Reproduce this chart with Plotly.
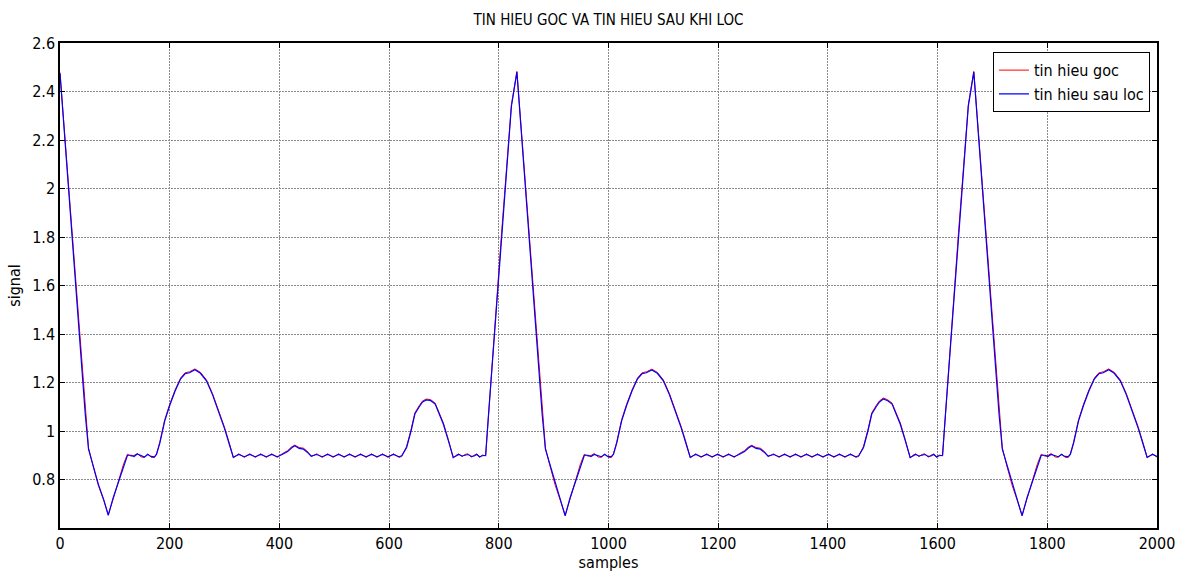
import plotly.graph_objects as go

# ---------------- data ----------------
samples_beat1 = [0, 9, 18, 27, 36, 46, 52, 61, 70, 80,
                 88, 97, 109, 116, 123, 130, 135, 141, 148, 154,
                 160, 166, 172, 176, 182, 191, 200, 210, 220, 228,
                 236, 246, 256, 262, 267, 278, 289, 300, 310, 316,
                 326, 336, 346, 356, 366, 376, 386, 396, 405, 415,
                 422, 428, 436, 444, 452, 458, 468, 478, 488, 498,
                 508, 518, 528, 538, 548, 558, 568, 578, 588, 598,
                 608, 618, 623, 632, 640, 647, 655, 661, 668, 676,
                 684, 692, 699, 708, 717, 722, 727, 733, 738, 744,
                 750, 755, 760, 765, 770, 776, 781, 792, 805, 814,
                 823]
filtered_beat1 = [2.475, 2.20, 1.92, 1.65, 1.37, 1.07, 0.925, 0.855, 0.78, 0.715,
                  0.652, 0.725, 0.808, 0.86, 0.900, 0.900, 0.895, 0.905, 0.897, 0.893,
                  0.903, 0.895, 0.893, 0.903, 0.95, 1.042, 1.105, 1.166, 1.215, 1.236,
                  1.240, 1.253, 1.238, 1.222, 1.207, 1.150, 1.083, 1.010, 0.935, 0.892,
                  0.903, 0.894, 0.903, 0.894, 0.903, 0.894, 0.903, 0.894, 0.903, 0.915,
                  0.930, 0.939, 0.928, 0.925, 0.910, 0.897, 0.903, 0.894, 0.903, 0.894,
                  0.903, 0.894, 0.903, 0.894, 0.903, 0.894, 0.903, 0.894, 0.903, 0.894,
                  0.903, 0.894, 0.898, 0.932, 1.00, 1.07, 1.10, 1.12, 1.128, 1.125,
                  1.111, 1.07, 1.028, 0.96, 0.891, 0.897, 0.903, 0.897, 0.900, 0.903,
                  0.895, 0.897, 0.903, 0.894, 0.898, 0.900, 1.06, 1.40, 1.81, 2.06,
                  2.34]
original_beat1 = [2.478, 2.21, 1.925, 1.655, 1.375, 1.075, 0.930, 0.850, 0.775, 0.712,
                  0.655, 0.720, 0.812, 0.865, 0.904, 0.896, 0.899, 0.907, 0.893, 0.891,
                  0.906, 0.892, 0.890, 0.906, 0.955, 1.047, 1.110, 1.170, 1.219, 1.240,
                  1.244, 1.256, 1.242, 1.226, 1.211, 1.155, 1.088, 1.015, 0.940, 0.889,
                  0.906, 0.891, 0.906, 0.891, 0.906, 0.891, 0.906, 0.891, 0.906, 0.919,
                  0.934, 0.942, 0.932, 0.929, 0.914, 0.894, 0.906, 0.891, 0.906, 0.891,
                  0.906, 0.891, 0.906, 0.891, 0.906, 0.891, 0.906, 0.891, 0.906, 0.891,
                  0.906, 0.891, 0.895, 0.937, 1.005, 1.075, 1.105, 1.124, 1.132, 1.129,
                  1.115, 1.075, 1.033, 0.965, 0.888, 0.900, 0.906, 0.894, 0.903, 0.906,
                  0.892, 0.900, 0.906, 0.891, 0.901, 0.897, 1.065, 1.405, 1.815, 2.065,
                  2.345]

samples_beat2 = [833, 842, 851, 860, 869, 879, 885, 894, 903, 913,
                 921, 930, 942, 949, 956, 963, 968, 974, 981, 987,
                 993, 999, 1005, 1009, 1015, 1024, 1033, 1043, 1053, 1061,
                 1069, 1079, 1089, 1095, 1100, 1111, 1122, 1133, 1143, 1149,
                 1159, 1169, 1179, 1189, 1199, 1209, 1219, 1229, 1238, 1248,
                 1255, 1261, 1269, 1277, 1285, 1291, 1301, 1311, 1321, 1331,
                 1341, 1351, 1361, 1371, 1381, 1391, 1401, 1411, 1421, 1431,
                 1441, 1451, 1456, 1465, 1473, 1480, 1488, 1494, 1501, 1509,
                 1517, 1525, 1532, 1541, 1550, 1555, 1560, 1566, 1571, 1577,
                 1583, 1588, 1593, 1598, 1603, 1609, 1614, 1625, 1638, 1647,
                 1656]
filtered_beat2 = [2.480, 2.20, 1.92, 1.65, 1.37, 1.07, 0.925, 0.855, 0.78, 0.712,
                  0.650, 0.725, 0.808, 0.86, 0.900, 0.900, 0.895, 0.903, 0.897, 0.894,
                  0.903, 0.895, 0.894, 0.903, 0.95, 1.042, 1.105, 1.166, 1.215, 1.236,
                  1.240, 1.252, 1.238, 1.222, 1.207, 1.150, 1.083, 1.010, 0.935, 0.892,
                  0.903, 0.894, 0.903, 0.894, 0.903, 0.894, 0.903, 0.894, 0.903, 0.915,
                  0.930, 0.938, 0.928, 0.925, 0.910, 0.897, 0.903, 0.894, 0.903, 0.894,
                  0.903, 0.894, 0.903, 0.894, 0.903, 0.894, 0.903, 0.894, 0.903, 0.894,
                  0.903, 0.894, 0.898, 0.932, 1.00, 1.07, 1.10, 1.12, 1.132, 1.125,
                  1.111, 1.07, 1.028, 0.96, 0.891, 0.897, 0.903, 0.897, 0.900, 0.903,
                  0.895, 0.897, 0.903, 0.894, 0.898, 0.900, 1.06, 1.40, 1.81, 2.06,
                  2.34]
original_beat2 = [2.483, 2.21, 1.925, 1.655, 1.375, 1.075, 0.930, 0.850, 0.775, 0.709,
                  0.653, 0.720, 0.812, 0.865, 0.904, 0.896, 0.899, 0.907, 0.893, 0.891,
                  0.906, 0.892, 0.890, 0.906, 0.955, 1.047, 1.110, 1.170, 1.219, 1.240,
                  1.244, 1.255, 1.242, 1.226, 1.211, 1.155, 1.088, 1.015, 0.940, 0.889,
                  0.906, 0.891, 0.906, 0.891, 0.906, 0.891, 0.906, 0.891, 0.906, 0.919,
                  0.934, 0.941, 0.932, 0.929, 0.914, 0.894, 0.906, 0.891, 0.906, 0.891,
                  0.906, 0.891, 0.906, 0.891, 0.906, 0.891, 0.906, 0.891, 0.906, 0.891,
                  0.906, 0.891, 0.895, 0.937, 1.005, 1.075, 1.105, 1.124, 1.136, 1.129,
                  1.115, 1.075, 1.033, 0.965, 0.888, 0.900, 0.906, 0.894, 0.903, 0.906,
                  0.892, 0.900, 0.906, 0.891, 0.901, 0.897, 1.065, 1.405, 1.815, 2.065,
                  2.345]

samples_beat3 = [1666, 1675, 1684, 1693, 1702, 1712, 1718, 1727, 1736, 1746,
                 1754, 1763, 1775, 1782, 1789, 1796, 1801, 1807, 1814, 1820,
                 1826, 1832, 1838, 1842, 1848, 1857, 1866, 1876, 1886, 1894,
                 1902, 1912, 1922, 1928, 1933, 1944, 1955, 1966, 1976, 1982,
                 1992, 2000]
filtered_beat3 = [2.480, 2.20, 1.92, 1.65, 1.37, 1.07, 0.925, 0.855, 0.78, 0.712,
                  0.650, 0.725, 0.808, 0.86, 0.900, 0.900, 0.895, 0.903, 0.897, 0.894,
                  0.903, 0.895, 0.894, 0.903, 0.95, 1.042, 1.105, 1.166, 1.215, 1.236,
                  1.240, 1.253, 1.238, 1.222, 1.207, 1.150, 1.083, 1.010, 0.935, 0.892,
                  0.903, 0.895]
original_beat3 = [2.483, 2.21, 1.925, 1.655, 1.375, 1.075, 0.930, 0.850, 0.775, 0.709,
                  0.653, 0.720, 0.812, 0.865, 0.904, 0.896, 0.899, 0.907, 0.893, 0.891,
                  0.906, 0.892, 0.890, 0.906, 0.955, 1.047, 1.110, 1.170, 1.219, 1.240,
                  1.244, 1.256, 1.242, 1.226, 1.211, 1.155, 1.088, 1.015, 0.940, 0.889,
                  0.906, 0.892]

x_tick_values = [0, 200, 400, 600, 800, 1000, 1200, 1400, 1600, 1800, 2000]
x_tick_labels = ["0", "200", "400", "600", "800", "1000", "1200", "1400", "1600", "1800", "2000"]
y_tick_values = [0.8, 1.0, 1.2, 1.4, 1.6, 1.8, 2.0, 2.2, 2.4, 2.6]
y_tick_labels = ["0.8", "1", "1.2", "1.4", "1.6", "1.8", "2", "2.2", "2.4", "2.6"]

series_names = ["tin hieu goc", "tin hieu sau loc"]

# ---------------- figure ----------------
samples = samples_beat1 + samples_beat2 + samples_beat3
original = original_beat1 + original_beat2 + original_beat3
filtered = filtered_beat1 + filtered_beat2 + filtered_beat3

FONT = "Liberation Sans Narrow, DejaVu Sans Condensed, Arial Narrow, sans-serif"

fig = go.Figure()
fig.add_trace(go.Scatter(x=samples, y=original, mode="lines", name=series_names[0],
                         line=dict(color="#ff0000", width=1)))
fig.add_trace(go.Scatter(x=samples, y=filtered, mode="lines", name=series_names[1],
                         line=dict(color="#0000ff", width=1.2)))

axis_common = dict(
    showline=True, linecolor="black", linewidth=1.5, mirror="ticks",
    ticks="inside", ticklen=5, tickcolor="black", tickwidth=1,
    showgrid=True, gridcolor="#8a8a8a", gridwidth=1, griddash="2px,1px",
    zeroline=False, automargin=False,
    tickfont=dict(family=FONT, size=16, color="black"),
)

fig.update_layout(
    width=1180, height=577,
    margin=dict(l=60, r=23, t=43, b=49, autoexpand=False),
    paper_bgcolor="white", plot_bgcolor="white",
    font=dict(family=FONT, size=16, color="black"),
    title=dict(text="TIN HIEU GOC VA TIN HIEU SAU KHI LOC", x=0.5, xref="paper",
               y=0.965, yanchor="middle", font=dict(family=FONT, size=15, color="black")),
    xaxis=dict(range=[0, 2000], tickvals=x_tick_values, ticktext=x_tick_labels,
               title=dict(text="samples", standoff=4, font=dict(family=FONT, size=16)),
               **axis_common),
    yaxis=dict(range=[0.6, 2.6], tickvals=y_tick_values, ticktext=y_tick_labels,
               title=dict(text="signal", standoff=8, font=dict(family=FONT, size=16)),
               **axis_common),
    legend=dict(x=0.9936, y=0.981, xanchor="right", yanchor="top",
                bgcolor="white", bordercolor="black", borderwidth=1,
                font=dict(family=FONT, size=16, color="black"),
                tracegroupgap=0),
    showlegend=True,
)

fig.write_html("out.html")
